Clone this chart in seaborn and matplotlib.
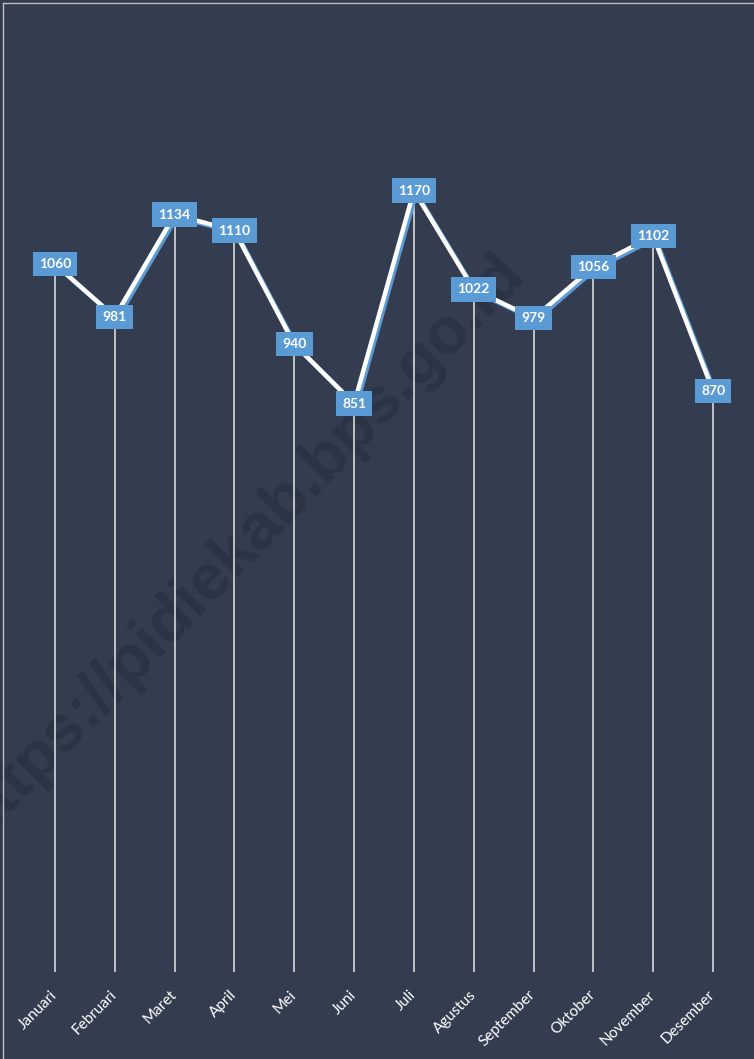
import matplotlib
matplotlib.use("Agg")
import matplotlib.pyplot as plt
import matplotlib.patheffects as pe
from matplotlib.lines import Line2D
import seaborn as sns
import pandas as pd

months = ["Januari", "Februari", "Maret", "April", "Mei", "Juni", "Juli",
          "Agustus", "September", "Oktober", "November", "Desember"]
values = [1060, 981, 1134, 1110, 940, 851, 1170, 1022, 979, 1056, 1102, 870]

BG = "#333D4F"
BLUE = "#5B9BD5"

df = pd.DataFrame({"bulan": months, "nilai": values})
df["pos"] = range(len(df))

sns.set_style("dark", {"axes.facecolor": BG, "figure.facecolor": BG})
plt.rcParams["font.family"] = ["Lato", "DejaVu Sans"]

fig = plt.figure(figsize=(7.54, 10.59), dpi=100)
ax = fig.add_axes([0.0332, 0.0822, 0.9522, 0.8828])
ax.set_facecolor(BG)

# watermark, behind the lines
ax.text(0.318, 0.484, "https://pidiekab.bps.go.id", rotation=46,
        transform=fig.transFigure, ha="center", va="center", fontsize=47,
        fontweight="bold", family="Liberation Sans", color="#2B3444",
        zorder=1)

# drop lines
ax.vlines(df["pos"], 0, df["nilai"], color="#E6E6E6", lw=1.1, zorder=2)

sns.lineplot(data=df, x="pos", y="nilai", ax=ax, color="white", lw=3.2,
             zorder=3, sort=False,
             path_effects=[pe.SimpleLineShadow(offset=(1.6, -1.6),
                                               shadow_color=BLUE, alpha=1),
                           pe.Normal()])

for x, v in zip(df["pos"], df["nilai"]):
    ax.text(x, v, str(v), ha="center", va="center", color="white",
            fontsize=10, fontweight="bold", zorder=5,
            bbox=dict(boxstyle="square,pad=0.45", fc=BLUE, ec="none"))

ax.set_xlim(-0.5, len(months) - 0.5)
ax.set_ylim(0, 1400)
ax.set_xticks(df["pos"])
ax.set_xticklabels(months, rotation=45, ha="right", va="center",
                   rotation_mode="anchor", color="white", fontsize=11)
ax.tick_params(axis="x", length=0, pad=15)
ax.set_yticks([])
ax.set_xlabel("")
ax.set_ylabel("")
ax.grid(False)
for s in ax.spines.values():
    s.set_visible(False)

# outer border (left and top)
fig.add_artist(Line2D([0.004, 0.004], [0, 0.997], color="#BFBFBF", lw=1,
                      transform=fig.transFigure))
fig.add_artist(Line2D([0.004, 1], [0.997, 0.997], color="#BFBFBF", lw=1,
                      transform=fig.transFigure))

fig.savefig("out.png", dpi=100, facecolor=BG)
